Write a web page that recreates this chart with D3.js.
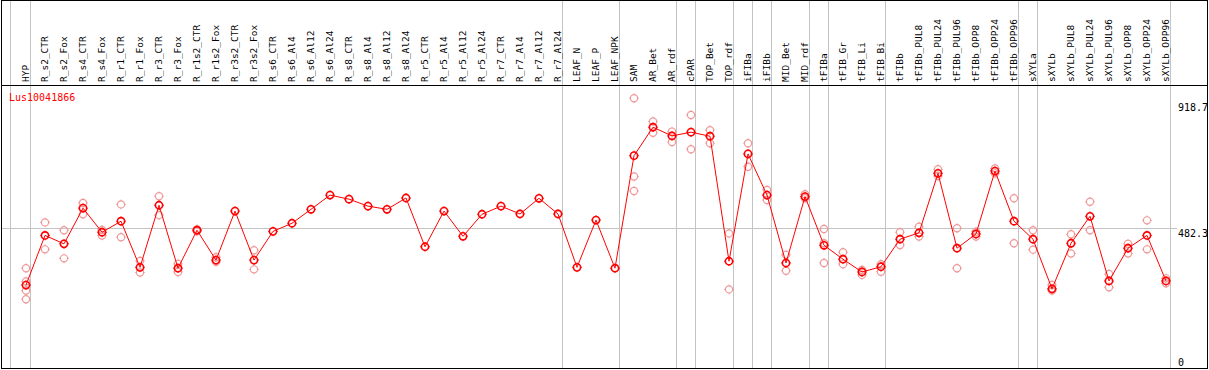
<!DOCTYPE html>
<html>
<head>
<meta charset="utf-8">
<script src="https://cdn.jsdelivr.net/npm/d3@7"></script>
<style>
  html, body { margin: 0; padding: 0; background: #fff; }
  svg { display: block; }
</style>
</head>
<body>
<svg id="chart" width="1209" height="370"></svg>
<script>
const title = "Lus10041866";
const categories = ["HYP","R_s2_CTR","R_s2_Fox","R_s4_CTR","R_s4_Fox","R_r1_CTR","R_r1_Fox","R_r3_CTR","R_r3_Fox","R_r1s2_CTR","R_r1s2_Fox","R_r3s2_CTR","R_r3s2_Fox","R_s6_CTR","R_s6_Al4","R_s6_Al12","R_s6_Al24","R_s8_CTR","R_s8_Al4","R_s8_Al12","R_s8_Al24","R_r5_CTR","R_r5_Al4","R_r5_Al12","R_r5_Al24","R_r7_CTR","R_r7_Al4","R_r7_Al12","R_r7_Al24","LEAF_N","LEAF_P","LEAF_NPK","SAM","AR_Bet","AR_rdf","cPAR","TOP_Bet","TOP_rdf","iFIBa","iFIBb","MID_Bet","MID_rdf","tFIBa","tFIB_Gr","tFIB_Li","tFIB_Bi","tFIBb","tFIBb_PUL8","tFIBb_PUL24","tFIBb_PUL96","tFIBb_OPP8","tFIBb_OPP24","tFIBb_OPP96","sXYLa","sXYLb","sXYLb_PUL8","sXYLb_PUL24","sXYLb_PUL96","sXYLb_OPP8","sXYLb_OPP24","sXYLb_OPP96"];
const means = [286,457,428,551,468,506,347,561,344,475,372,541,372,471,499,547,596,582,558,547,586,418,541,454,530,558,531,585,531,347,510,344,732,830,800,813,799,368,738,596,362,591,423,375,331,349,444,466,671,413,462,679,506,444,273,430,523,300,413,457,300];
const replicates = [[344,298,267,237],[502,409],[475,378],[569,530],[476,457],[564,451],[369,329],[592,527],[359,331],[478,471],[382,366],[],[406,340],
  [],[],[],[],[],[],[],[],[],[],[],[],[],[],[],[],[],[],[],
  [930,660,610],[850,811],[815,779],[872,754],[820,775],[464,271],[775,694],[614,579],[390,335],[599,585],[479,362,430],[399,358],[321,338],[332,358],
  [468,424],[487,453],[685,662],[482,344],[470,453],[688,671],[585,430],[475,408],[286,267],[461,395],[573,475],[324,278],[428,395],[509,409],[309,292]];
const separatorsAfter = ["HYP","R_r7_Al24","LEAF_NPK","AR_rdf","cPAR","TOP_rdf","iFIBa","iFIBb","MID_rdf","tFIBa","tFIB_Bi","tFIBb_OPP96","sXYLa","sXYLb_OPP96"];
const yTicks = [0, 482.3, 918.7];
const gridValue = 482.3;

const W = 1209, H = 370;
const svg = d3.select("#chart");
const x = d3.scalePoint().domain(categories).range([26, 1166]);
const y = d3.scaleLinear().domain([0, 918.7]).range([368, 101.5]);
const mono = "'DejaVu Sans Mono', 'Liberation Mono', monospace";

// separators (full height)
const sepX = [x(categories[0]) - 16].concat(separatorsAfter.map(c => x(c) + 4));
svg.append("g").selectAll("line").data(sepX).join("line")
  .attr("x1", d => Math.round(d) + 0.5).attr("x2", d => Math.round(d) + 0.5)
  .attr("y1", 0).attr("y2", 369)
  .attr("stroke", "#c4c4c4").attr("stroke-width", 1);

// horizontal grid line
svg.append("line")
  .attr("x1", 2).attr("x2", 1177)
  .attr("y1", Math.round(y(gridValue)) + 0.5).attr("y2", Math.round(y(gridValue)) + 0.5)
  .attr("stroke", "#c4c4c4").attr("stroke-width", 1);

// frame
svg.append("rect").attr("x", 1.5).attr("y", 0.5).attr("width", 1206).attr("height", 368)
  .attr("fill", "none").attr("stroke", "#000").attr("stroke-width", 1);
svg.append("line").attr("x1", 1).attr("x2", 1208).attr("y1", 85.5).attr("y2", 85.5)
  .attr("stroke", "#000").attr("stroke-width", 1);

// category labels
svg.append("g").selectAll("text").data(categories).join("text")
  .attr("transform", d => `translate(${x(d) + 3},82) rotate(-90)`)
  .attr("text-anchor", "start")
  .attr("font-family", mono).attr("font-size", "9.5px").attr("fill", "#000")
  .text(d => d);

// title
svg.append("text").attr("x", 9).attr("y", 101.3).attr("font-family", mono)
  .attr("font-size", "10px").attr("fill", "#ff0000").text(title);

// right axis labels
svg.append("g").selectAll("text").data(yTicks).join("text")
  .attr("x", 1178)
  .attr("y", d => Math.min(y(d) + 9, 366))
  .attr("font-family", mono).attr("font-size", "10px").attr("fill", "#000")
  .text(d => d === 0 ? "0" : d.toFixed(1));

// marker drawing: circle with four tiny ticks
const R = 3.6;
function marker(sel, color, sw) {
  sel.append("circle").attr("r", R).attr("fill", "none").attr("stroke", color).attr("stroke-width", sw);
  sel.append("path")
    .attr("d", `M0,${-R-1.2}V${-R}M0,${R}V${R+1.2}M${-R-1.2},0H${-R}M${R},0H${R+1.2}`)
    .attr("stroke", color).attr("stroke-width", 1).attr("fill", "none");
}

// replicates
const repPts = [];
replicates.forEach((arr, i) => arr.forEach(v => repPts.push({c: categories[i], v})));
svg.append("g").selectAll("g").data(repPts).join("g")
  .attr("transform", d => `translate(${x(d.c)},${y(d.v)})`)
  .call(marker, "#f09898", 1.2);

// line
const line = d3.line().x((d, i) => x(categories[i])).y(d => y(d));
svg.append("path").datum(means).attr("d", line)
  .attr("fill", "none").attr("stroke", "#ff0000").attr("stroke-width", 1);

// means
svg.append("g").selectAll("g").data(means).join("g")
  .attr("transform", (d, i) => `translate(${x(categories[i])},${y(d)})`)
  .call(marker, "#ff0000", 1.6);
</script>
</body>
</html>
